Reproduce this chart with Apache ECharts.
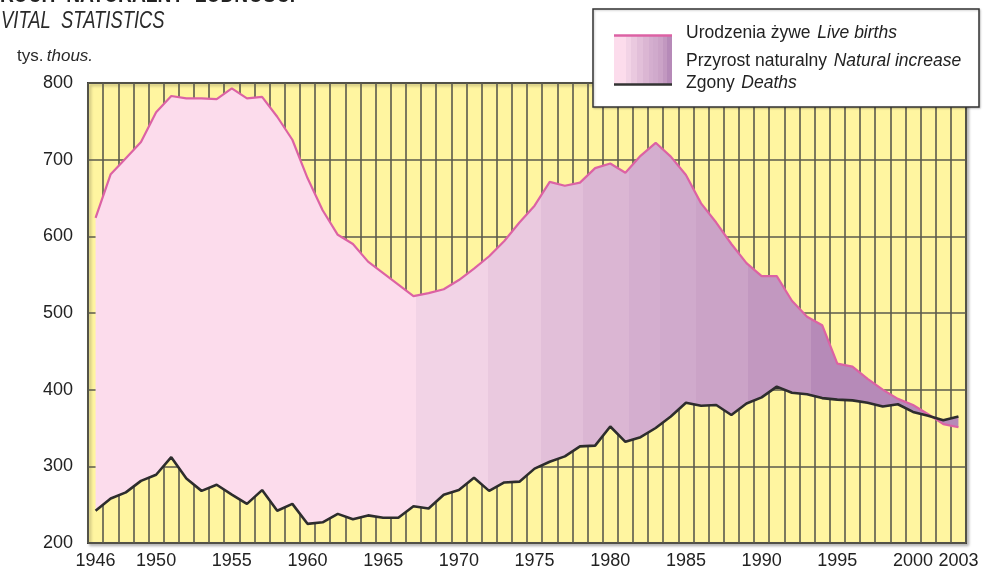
<!DOCTYPE html>
<html>
<head>
<meta charset="utf-8">
<title>Ruch naturalny ludności</title>
<script src="https://cdn.jsdelivr.net/npm/echarts@6/dist/echarts.min.js"></script>
<style>
  html, body { margin: 0; padding: 0; background: #fff; }
  #chart { width: 987px; height: 573px; }
</style>
</head>
<body>
<div id="chart"></div>
<script>
// dane w tys.
const years = ['1946','1947','1948','1949','1950','1951','1952','1953','1954','1955',
  '1956','1957','1958','1959','1960','1961','1962','1963','1964','1965',
  '1966','1967','1968','1969','1970','1971','1972','1973','1974','1975',
  '1976','1977','1978','1979','1980','1981','1982','1983','1984','1985',
  '1986','1987','1988','1989','1990','1991','1992','1993','1994','1995',
  '1996','1997','1998','1999','2000','2001','2002','2003'];

const births = [624, 681, 702, 723, 762, 783, 780, 780, 779, 793,
  780, 782, 756, 726, 676, 634, 602, 590, 567, 552,
  537, 522, 526, 531, 543, 558, 574, 594, 618, 640,
  671, 666, 670, 689, 695, 683, 705, 722, 704, 680,
  643, 618, 590, 565, 548, 548, 516, 495, 484, 434,
  430, 414, 400, 388, 380, 368, 355, 351];

const deaths = [242, 258, 266, 281, 289, 312, 284, 268, 276, 263,
  251, 269, 242, 251, 225, 227, 238, 231, 236, 233,
  233, 248, 245, 263, 269, 285, 268, 279, 280, 297,
  306, 313, 326, 327, 352, 332, 338, 350, 365, 383,
  379, 380, 367, 382, 390, 404, 396, 394, 389, 387,
  386, 383, 378, 381, 371, 366, 360, 365];

const xLabelYears = ['1946', '1950', '1955', '1960', '1965', '1970', '1975', '1980', '1985', '1990', '1995', '2000', '2003'];

// przyrost = urodzenia - zgony (wypelnienie miedzy liniami)
const increase = births.map((b, i) => b - deaths[i]);

const regular = "'Liberation Sans', Arial, sans-serif";

// pasy koloru (jak w oryginale)
const bandColors = ['#fcdcec', '#f2d3e6', '#eac9df', '#e2bfd9', '#dbb6d3', '#d4aecf', '#d0aacc', '#cba3c7', '#c298c0', '#b68ab8'];
const bandEnds = [0.371, 0.455, 0.516, 0.565, 0.618, 0.654, 0.696, 0.756, 0.829, 1];

function bandGradient(ends) {
  var stops = [];
  var start = 0;
  for (var i = 0; i < bandColors.length; i++) {
    stops.push({offset: start, color: bandColors[i]});
    stops.push({offset: ends[i], color: bandColors[i]});
    start = ends[i];
  }
  return {type: 'linear', x: 0, y: 0, x2: 1, y2: 0, colorStops: stops};
}

function legendText(y, a, b) {
  return {
    type: 'text', x: 686, y: y, z: 102,
    style: {
      text: '{n|' + a + '}  {i|' + b + '}', textVerticalAlign: 'middle',
      rich: {
        n: {fontFamily: regular, fontSize: 17.5, fill: '#222'},
        i: {fontFamily: regular, fontSize: 17.5, fontStyle: 'italic', fill: '#222'}
      }
    }
  };
}

var chart = echarts.init(document.getElementById('chart'));

var option = {
  animation: false,
  grid: {
    left: 88, right: 21, top: 83, bottom: 30,
    show: true,
    backgroundColor: '#fff5a0',
    borderColor: '#3a3a3a',
    borderWidth: 2,
    shadowColor: 'rgba(0,0,0,0.25)',
    shadowBlur: 3,
    shadowOffsetX: 2,
    shadowOffsetY: 2
  },
  xAxis: {
    type: 'category',
    data: years,
    boundaryGap: true,
    axisLine: {show: false},
    axisTick: {show: false, interval: 0},
    splitLine: {show: true, interval: 0, lineStyle: {color: '#5b5a4c', width: 1.6}},
    axisLabel: {
      interval: 0,
      margin: 9,
      color: '#222',
      fontFamily: regular,
      fontSize: 18,
      formatter: function (v) { return xLabelYears.indexOf(v) >= 0 ? v : ''; }
    }
  },
  yAxis: {
    type: 'value',
    min: 200, max: 800, interval: 100,
    axisLine: {show: false},
    axisTick: {show: false},
    splitLine: {show: true, lineStyle: {color: '#5b5a4c', width: 1.6}},
    axisLabel: {
      margin: 15,
      color: '#222',
      fontFamily: regular,
      fontSize: 18
    }
  },
  series: [
    {
      name: 'base',
      type: 'line',
      data: deaths,
      stack: 'ruch',
      stackStrategy: 'all',
      symbol: 'none',
      silent: true,
      lineStyle: {width: 0, opacity: 0}
    },
    {
      name: 'Przyrost naturalny',
      type: 'line',
      data: increase,
      stack: 'ruch',
      stackStrategy: 'all',
      symbol: 'none',
      silent: true,
      lineStyle: {width: 0, opacity: 0},
      areaStyle: {opacity: 1, color: bandGradient(bandEnds)}
    },
    {
      name: 'Urodzenia żywe',
      type: 'line',
      data: births,
      symbol: 'none',
      z: 5,
      lineStyle: {color: '#dc62a4', width: 2.2}
    },
    {
      name: 'Zgony',
      type: 'line',
      data: deaths,
      symbol: 'none',
      z: 6,
      lineStyle: {color: '#2d2d2d', width: 2.6}
    }
  ],
  graphic: [
    {
      type: 'text', x: 0, y: -17, scaleX: 0.8, originX: 0,
      style: {text: 'RUCH  NATURALNY  LUDNOŚCI', font: 'bold 24px ' + regular, fill: '#222'}
    },
    {
      type: 'text', x: 1, y: 22, scaleX: 0.8, originX: 0,
      style: {text: 'VITAL  STATISTICS', font: 'italic 23px ' + regular, fill: '#2a2a2a', textVerticalAlign: 'middle'}
    },
    {
      type: 'text', x: 17, y: 56,
      style: {
        text: '{n|tys.} {i|thous.}',
        textVerticalAlign: 'middle',
        rich: {
          n: {fontFamily: regular, fontSize: 17, fill: '#2a2a2a'},
          i: {fontFamily: regular, fontSize: 17, fontStyle: 'italic', fill: '#2a2a2a'}
        }
      }
    },
    // legenda
    {
      type: 'rect', shape: {x: 593, y: 9, width: 386, height: 98},
      style: {fill: '#fff', stroke: '#333', lineWidth: 1.5, shadowColor: 'rgba(0,0,0,0.2)', shadowBlur: 2, shadowOffsetX: 1, shadowOffsetY: 1},
      z: 100
    },
    {
      type: 'rect', shape: {x: 614, y: 35, width: 58, height: 50},
      style: {fill: bandGradient([0.2, 0.3, 0.4, 0.5, 0.6, 0.68, 0.76, 0.84, 0.92, 1])},
      z: 101
    },
    {
      type: 'line', shape: {x1: 614, y1: 35.5, x2: 672, y2: 35.5},
      style: {stroke: '#dc62a4', lineWidth: 2.5}, z: 102
    },
    {
      type: 'line', shape: {x1: 614, y1: 84.5, x2: 672, y2: 84.5},
      style: {stroke: '#333', lineWidth: 2.5}, z: 102
    },
    legendText(33, 'Urodzenia żywe', 'Live births'),
    legendText(61, 'Przyrost naturalny', 'Natural increase'),
    legendText(83, 'Zgony', 'Deaths')
  ]
};

chart.setOption(option);
</script>
</body>
</html>
